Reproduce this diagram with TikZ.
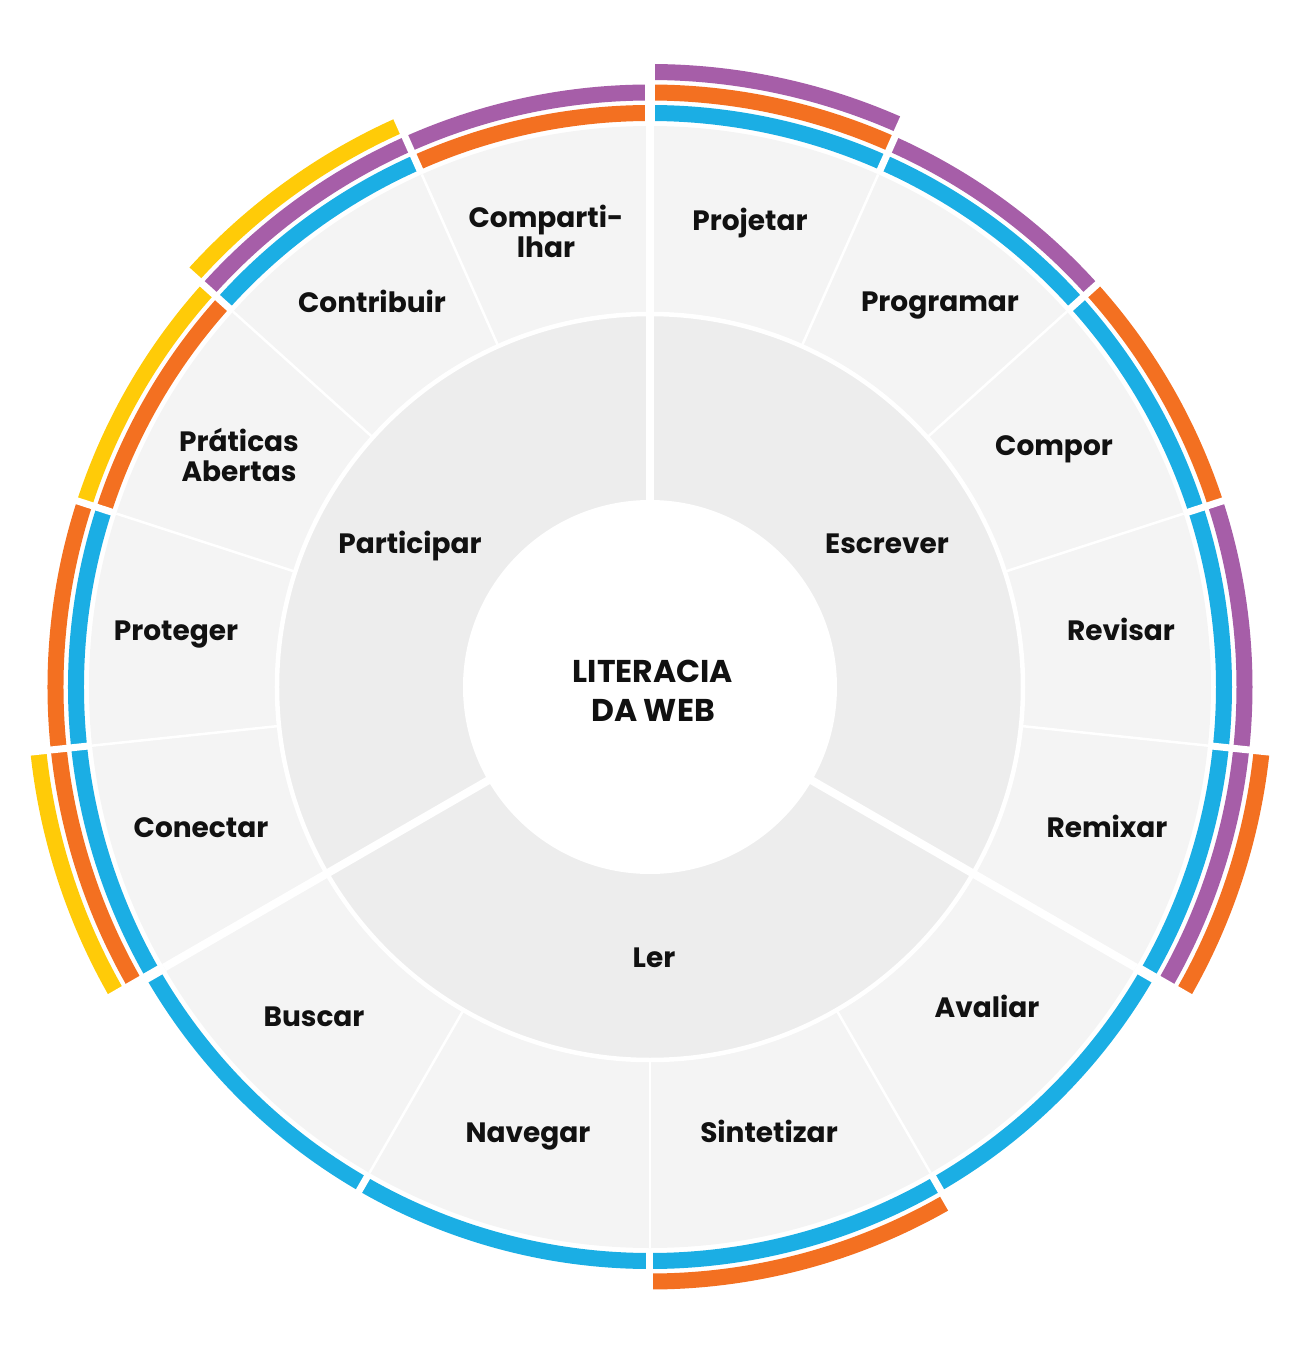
\documentclass[tikz,border=0pt]{standalone}
\usepackage{fontspec}
\setmainfont{Poppins}
\definecolor{wlBlue}{HTML}{1BAEE4}
\definecolor{wlOrange}{HTML}{F37021}
\definecolor{wlPurple}{HTML}{A65EA8}
\definecolor{wlYellow}{HTML}{FFCB08}
\definecolor{ringOut}{HTML}{F4F4F4}
\definecolor{ringIn}{HTML}{EDEDED}
\definecolor{txt}{HTML}{111111}
\tikzset{
  lbl/.style={font=\bfseries\fontsize{28}{30}\selectfont, text=txt, inner sep=0pt, align=center},
  hub/.style={font=\bfseries\fontsize{31.5}{39}\selectfont, text=txt, inner sep=0pt, align=center},
  thingap/.style={white, line width=2.5pt},
  arcgap/.style={white, line width=7pt},
  majgap/.style={white, line width=8pt},
  majarcgap/.style={white, line width=10pt}
}
\newcommand\bandseg[4]{%
  \pgfmathsetmacro\wlrin{566+20.5*(#3-1)}%
  \pgfmathsetmacro\wlrout{\wlrin+16}%
  \fill[#4] (#1:\wlrin pt) arc[start angle=#1, end angle=#2, radius=\wlrin pt]
    -- (#2:\wlrout pt) arc[start angle=#2, end angle=#1, radius=\wlrout pt] -- cycle;}
\begin{document}
\begin{tikzpicture}[x=1pt,y=1pt]
\useasboundingbox (-650,-663) rectangle (645,687);
% rings
\fill[ringOut] (0,0) circle[radius=561pt];
\foreach \a in {66,42,18,-6,-60,-90,-120,186,162,138,114}
  \draw[thingap] (\a:370pt) -- (\a:561pt);
\fill[ringIn] (0,0) circle[radius=373pt];
\draw[white, line width=4.5pt] (0,0) circle[radius=373pt];
\fill[white] (0,0) circle[radius=187pt];
% coloured bands (inner to outer)
\foreach \sa/\sb/\cols in {66/90/{wlBlue,wlOrange,wlPurple},
  42/66/{wlBlue,wlPurple}, 18/42/{wlBlue,wlOrange}, -6/18/{wlBlue,wlPurple},
  -30/-6/{wlBlue,wlPurple,wlOrange}, -60/-30/{wlBlue}, -90/-60/{wlBlue,wlOrange},
  -120/-90/{wlBlue}, -150/-120/{wlBlue}, 186/210/{wlBlue,wlOrange,wlYellow},
  162/186/{wlBlue,wlOrange}, 138/162/{wlOrange,wlYellow},
  114/138/{wlBlue,wlPurple,wlYellow}, 90/114/{wlOrange,wlPurple}}
{
  \foreach \c [count=\k] in \cols { \bandseg{\sa}{\sb}{\k}{\c} }
}
% gaps
\foreach \a in {66,42,18,-6,-60,-90,-120,186,162,138,114}
  \draw[arcgap] (\a:562pt) -- (\a:634pt);
\foreach \a in {90,-30,210} {
  \draw[majgap] (\a:180pt) -- (\a:561pt);
  \draw[majarcgap] (\a:561pt) -- (\a:634pt);
}
% labels
\node[hub] (hub) at (3,-4) {LITERACIA\\DA WEB};
\node[lbl, anchor=base] (escrever) at (237,134) {Escrever};
\node[lbl, anchor=base] (ler) at (4,-280) {Ler};
\node[lbl, anchor=base] (participar) at (-240,134) {Participar};
\node[lbl, anchor=base] (projetar) at (100,456) {Projetar};
\node[lbl, anchor=base] (programar) at (290,375) {Programar};
\node[lbl, anchor=base] (compor) at (404,231) {Compor};
\node[lbl, anchor=base] (revisar) at (471,47) {Revisar};
\node[lbl, anchor=base] (remixar) at (457,-150) {Remixar};
\node[lbl, anchor=base] (avaliar) at (337,-330) {Avaliar};
\node[lbl, anchor=base] (sintetizar) at (119,-455) {Sintetizar};
\node[lbl, anchor=base] (navegar) at (-122,-455) {Navegar};
\node[lbl, anchor=base] (buscar) at (-336,-339) {Buscar};
\node[lbl, anchor=base] (conectar) at (-449,-150) {Conectar};
\node[lbl, anchor=base] (proteger) at (-474,47) {Proteger};
\node[lbl] (praticas) at (-411,232) {Práticas\\Abertas};
\node[lbl, anchor=base] (contribuir) at (-278,374) {Contribuir};
\node[lbl] (compartilhar) at (-104,456) {Comparti-\\lhar};
\end{tikzpicture}
\end{document}
